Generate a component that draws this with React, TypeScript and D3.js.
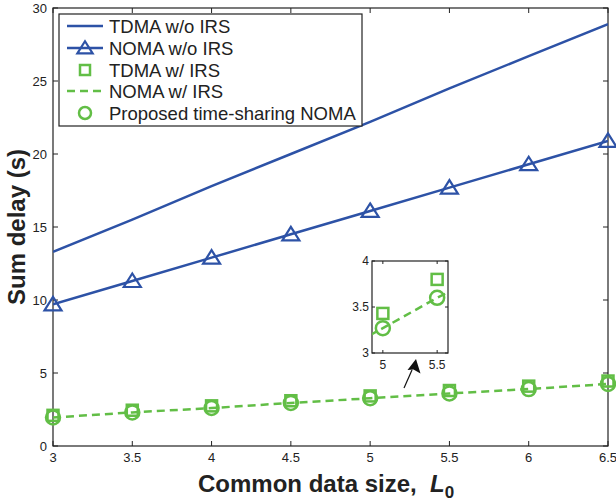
import React from "react";
import * as d3 from "d3";

const xs = [3, 3.5, 4, 4.5, 5, 5.5, 6, 6.5];
const tdmaNoIrs = [13.3, 15.5, 17.8, 20.0, 22.2, 24.5, 26.7, 28.9];
const nomaNoIrs = [9.7, 11.3, 12.9, 14.5, 16.1, 17.7, 19.3, 20.9];
const tdmaIrs = [2.1, 2.45, 2.75, 3.1, 3.43, 3.8, 4.1, 4.45];
const nomaIrs = [1.95, 2.3, 2.6, 2.95, 3.27, 3.6, 3.9, 4.25];
const proposed = [1.95, 2.3, 2.6, 2.95, 3.27, 3.6, 3.9, 4.25];
const xTicks = [3, 3.5, 4, 4.5, 5, 5.5, 6, 6.5];
const yTicks = [0, 5, 10, 15, 20, 25, 30];
const insetXTicks = [5, 5.5];
const insetYTicks = [3, 3.5, 4];
const legendLabels = [
  "TDMA w/o IRS",
  "NOMA w/o IRS",
  "TDMA w/ IRS",
  "NOMA w/ IRS",
  "Proposed time-sharing NOMA",
];

const BLUE = "#2D52A6";
const GREEN = "#62BE46";
const FONT = "'Liberation Sans', Arial, Helvetica, sans-serif";

const tri = (x: number, y: number, s: number) =>
  `M${x},${y - s * 0.75}L${x + s * 0.85},${y + s * 0.6}L${x - s * 0.85},${y + s * 0.6}Z`;

export default function App() {
  const W = 616, H = 501;
  const L = 53, R = 608, T = 8, B = 446;
  const x = d3.scaleLinear().domain([3, 6.5]).range([L, R]);
  const y = d3.scaleLinear().domain([0, 30]).range([B, T]);
  const line = (ys: number[]) =>
    d3.line<number>().x((_, i) => x(xs[i])).y((d) => y(d))(ys) || "";

  // inset
  const iL = 372, iR = 448, iT = 261, iB = 353;
  const ix = d3.scaleLinear().domain([4.9, 5.6]).range([iL, iR]);
  const iy = d3.scaleLinear().domain([3, 4]).range([iB, iT]);
  const insetIdx = [4, 5];
  const clipLine = d3.line<number>().x((_, i) => ix(xs[i])).y((d) => iy(d))(nomaIrs) || "";

  const legRows = [26, 48, 70, 91, 113];

  return (
    <svg width={W} height={H} style={{ position: "absolute", left: 0, top: 0, background: "#fff" }} fontFamily={FONT}>
      <defs>
        <clipPath id="plotClip">
          <rect x={L} y={T} width={R - L} height={B - T} />
        </clipPath>
        <clipPath id="insetClip">
          <rect x={iL} y={iT} width={iR - iL} height={iB - iT} />
        </clipPath>
      </defs>
      <rect x={0} y={0} width={W} height={H} fill="#fff" />

      {/* axes box */}
      <rect x={L} y={T} width={R - L} height={B - T} fill="none" stroke="#222" strokeWidth={1.2} />
      {xTicks.map((t) => (
        <g key={"xt" + t}>
          <line x1={x(t)} x2={x(t)} y1={B} y2={B - 5} stroke="#222" />
          <line x1={x(t)} x2={x(t)} y1={T} y2={T + 5} stroke="#222" />
          <text x={x(t)} y={B + 16} fontSize={13} textAnchor="middle" fill="#222">{t}</text>
        </g>
      ))}
      {yTicks.map((t) => (
        <g key={"yt" + t}>
          <line x1={L} x2={L + 5} y1={y(t)} y2={y(t)} stroke="#222" />
          <line x1={R} x2={R - 5} y1={y(t)} y2={y(t)} stroke="#222" />
          <text x={L - 6} y={y(t) + 4.5} fontSize={13} textAnchor="end" fill="#222">{t}</text>
        </g>
      ))}

      <g clipPath="url(#plotClip)">
        <path d={line(tdmaNoIrs)} fill="none" stroke={BLUE} strokeWidth={2.5} />
        <path d={line(nomaNoIrs)} fill="none" stroke={BLUE} strokeWidth={2.5} />
        <path d={line(nomaIrs)} fill="none" stroke={GREEN} strokeWidth={2.5} strokeDasharray="8,5" />
      </g>
      {nomaNoIrs.map((v, i) => (
        <path key={"tr" + i} d={tri(x(xs[i]), y(v), 10)} fill="none" stroke={BLUE} strokeWidth={2.2} />
      ))}
      {tdmaIrs.map((v, i) => (
        <rect key={"sq" + i} x={x(xs[i]) - 5.5} y={y(v) - 5.5} width={11} height={11} fill="none" stroke={GREEN} strokeWidth={2.5} />
      ))}
      {proposed.map((v, i) => (
        <circle key={"ci" + i} cx={x(xs[i])} cy={y(v)} r={7} fill="none" stroke={GREEN} strokeWidth={2.5} />
      ))}

      {/* inset */}
      <rect x={iL} y={iT} width={iR - iL} height={iB - iT} fill="#fff" stroke="#222" strokeWidth={1.2} />
      <g clipPath="url(#insetClip)">
        <path d={clipLine} fill="none" stroke={GREEN} strokeWidth={2.5} strokeDasharray="8,5" />
      </g>
      {insetIdx.map((i) => (
        <g key={"in" + i}>
          <rect x={ix(xs[i]) - 5.5} y={iy(tdmaIrs[i]) - 5.5} width={11} height={11} fill="none" stroke={GREEN} strokeWidth={2.5} />
          <circle cx={ix(xs[i])} cy={iy(proposed[i])} r={7} fill="none" stroke={GREEN} strokeWidth={2.5} />
        </g>
      ))}
      {insetXTicks.map((t) => (
        <g key={"ixt" + t}>
          <line x1={ix(t)} x2={ix(t)} y1={iB} y2={iB - 3} stroke="#222" />
          <line x1={ix(t)} x2={ix(t)} y1={iT} y2={iT + 3} stroke="#222" />
          <text x={ix(t)} y={iB + 16} fontSize={12} textAnchor="middle" fill="#222">{t}</text>
        </g>
      ))}
      {insetYTicks.map((t) => (
        <g key={"iyt" + t}>
          <line x1={iL} x2={iL + 3} y1={iy(t)} y2={iy(t)} stroke="#222" />
          <line x1={iR} x2={iR - 3} y1={iy(t)} y2={iy(t)} stroke="#222" />
          <text x={iL - 3} y={iy(t) + 4} fontSize={12} textAnchor="end" fill="#222">{t}</text>
        </g>
      ))}
      {/* arrow */}
      <line x1={404} y1={388} x2={412} y2={370} stroke="#111" strokeWidth={1.2} />
      <path d="M416,359 L420.5,373.5 L413.5,369.5 L407.5,370 Z" fill="#111" />

      {/* legend */}
      <rect x={59} y={14} width={303} height={112} fill="#fff" stroke="#222" strokeWidth={1.2} />
      {legendLabels.map((lab, k) => {
        const cy = legRows[k];
        const x0 = 67, x1 = 103, xm = 85;
        return (
          <g key={lab}>
            {k === 0 && <line x1={x0} x2={x1} y1={cy} y2={cy} stroke={BLUE} strokeWidth={2.5} />}
            {k === 1 && (
              <>
                <line x1={x0} x2={x1} y1={cy} y2={cy} stroke={BLUE} strokeWidth={2.5} />
                <path d={tri(xm, cy, 9)} fill="none" stroke={BLUE} strokeWidth={2.2} />
              </>
            )}
            {k === 2 && <rect x={xm - 5} y={cy - 5} width={10} height={10} fill="none" stroke={GREEN} strokeWidth={2.5} />}
            {k === 3 && <line x1={x0} x2={x1} y1={cy} y2={cy} stroke={GREEN} strokeWidth={2.5} strokeDasharray="8,5" />}
            {k === 4 && <circle cx={xm} cy={cy} r={6} fill="none" stroke={GREEN} strokeWidth={2.5} />}
            <text x={109} y={cy + 6.5} fontSize={18.5} fill="#222">{lab}</text>
          </g>
        );
      })}

      {/* axis labels */}
      <text x={198} y={492} fontSize={24} fontWeight="bold" fill="#222">
        Common data size,{"\u00A0\u00A0"}
        <tspan fontStyle="italic">L</tspan>
        <tspan fontSize={17} dy={6}>0</tspan>
      </text>
      <text transform="translate(25,227) rotate(-90)" fontSize={24} fontWeight="bold" textAnchor="middle" fill="#222">
        Sum delay (s)
      </text>
    </svg>
  );
}
